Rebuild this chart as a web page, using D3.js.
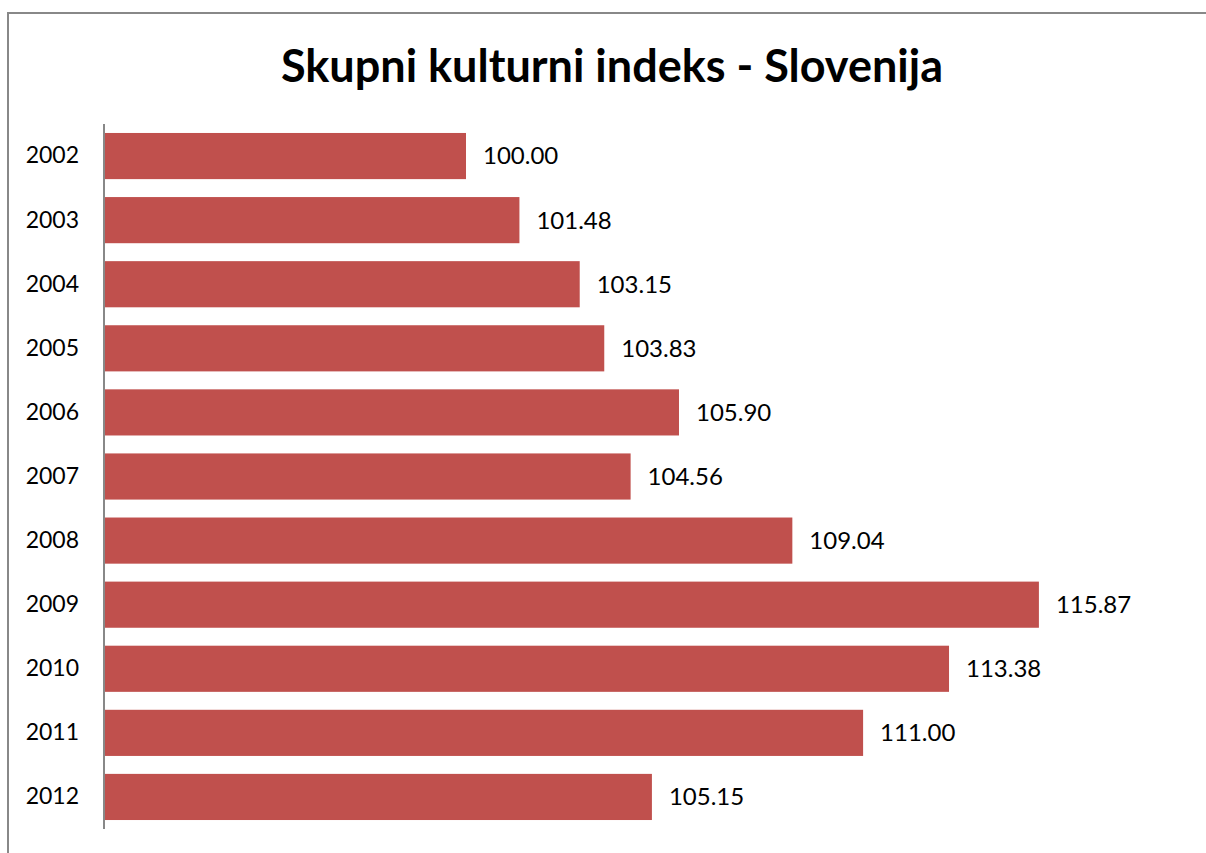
<!DOCTYPE html>
<html>
<head>
<meta charset="utf-8">
<script src="https://cdn.jsdelivr.net/npm/d3@7"></script>
<style>
  body { margin: 0; background: #fff; }
  text { font-family: Lato, "Open Sans", sans-serif; }
</style>
</head>
<body>
<div id="chart"></div>
<script>
const years = ["2002", "2003", "2004", "2005", "2006", "2007", "2008", "2009", "2010", "2011", "2012"];
const values = [100.00, 101.48, 103.15, 103.83, 105.90, 104.56, 109.04, 115.87, 113.38, 111.00, 105.15];
const title = "Skupni kulturni indeks - Slovenija";

const width = 1206, height = 853;

const svg = d3.select('#chart')
    .append('svg')
    .attr('width', width)
    .attr('height', height);

// outer frame, runs off the right and bottom edge
svg.append('rect')
    .attr('x', 8).attr('y', 13)
    .attr('width', width + 20).attr('height', height + 20)
    .attr('fill', 'none')
    .attr('stroke', '#888')
    .attr('stroke-width', 2);

svg.append('text')
    .attr('x', 612)
    .attr('y', 82)
    .attr('text-anchor', 'middle')
    .style('font-size', '45px')
    .style('font-weight', 'bold')
    .text(title);

const plotLeft = 105, plotTop = 124, plotBottom = 829;

let x = d3.scaleLinear()
    .domain([90, 120])
    .range([plotLeft, plotLeft + 30 * 36.1]);

let y = d3.scaleBand()
    .domain(years)
    .range([plotTop, plotBottom])
    .paddingInner(0.28)
    .paddingOuter(0.14);

const g = svg.append('g');

g.selectAll('rect.bar')
    .data(values)
    .enter()
    .append('rect')
    .attr('class', 'bar')
    .attr('x', x(90))
    .attr('y', (d, i) => y(years[i]))
    .attr('width', d => x(d) - x(90))
    .attr('height', y.bandwidth())
    .attr('fill', '#C0504D');

g.selectAll('text.val')
    .data(values)
    .enter()
    .append('text')
    .attr('class', 'val')
    .attr('x', d => x(d) + 17)
    .attr('y', (d, i) => y(years[i]) + y.bandwidth() / 2)
    .attr('dy', '0.35em')
    .style('font-size', '24px')
    .text(d => d.toFixed(2));

// category axis
const yAxis = g.append('g')
    .attr('transform', 'translate(' + (plotLeft - 1) + ',0)')
    .call(d3.axisLeft(y).tickSize(0).tickPadding(25));
yAxis.select('.domain')
    .attr('d', 'M0,' + plotTop + 'V' + plotBottom)
    .attr('stroke', '#888')
    .attr('stroke-width', 2);
yAxis.selectAll('text')
    .style('font-size', '23px')
    .style('font-family', 'Lato, "Open Sans", sans-serif')
    .attr('fill', '#000');
</script>
</body>
</html>
